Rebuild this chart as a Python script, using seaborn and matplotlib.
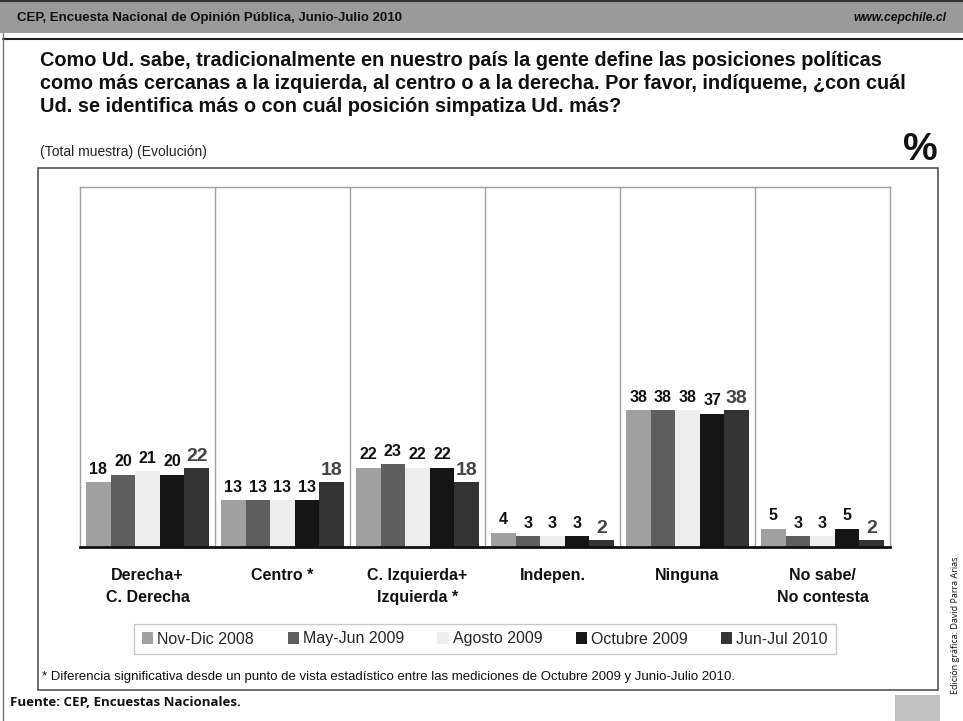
import matplotlib
matplotlib.use("Agg")
import matplotlib.pyplot as plt
import seaborn as sns
import pandas as pd
from matplotlib.patches import Rectangle
from matplotlib.lines import Line2D

categories = ["Derecha+\nC. Derecha", "Centro *", "C. Izquierda+\nIzquierda *",
              "Indepen.", "Ninguna", "No sabe/\nNo contesta"]
series = ["Nov-Dic 2008", "May-Jun 2009", "Agosto 2009", "Octubre 2009", "Jun-Jul 2010"]
nov_dic_2008 = [18, 13, 22, 4, 38, 5]
may_jun_2009 = [20, 13, 23, 3, 38, 3]
agosto_2009 = [21, 13, 22, 3, 38, 3]
octubre_2009 = [20, 13, 22, 3, 37, 5]
jun_jul_2010 = [22, 18, 18, 2, 38, 2]
colors = ["#A0A0A0", "#5E5E5E", "#EEEEEE", "#151515", "#333333"]

values = [nov_dic_2008, may_jun_2009, agosto_2009, octubre_2009, jun_jul_2010]
rows = []
for s, vals in zip(series, values):
    for c, v in zip(categories, vals):
        rows.append({"cat": c, "serie": s, "val": v})
df = pd.DataFrame(rows)

sns.set_style("white")
plt.rcParams['font.family'] = ['Liberation Sans', 'DejaVu Sans']

W, H = 963, 721
fig = plt.figure(figsize=(W / 100, H / 100), dpi=100)

def fx(x):
    return x / W

def fy(y):
    return 1 - y / H

# header band
fig.patches.append(Rectangle((0, fy(33)), 1, 33 / H, transform=fig.transFigure,
                             facecolor="#9A9A9A", edgecolor="none", zorder=0))
fig.lines.append(Line2D([0, 1], [fy(1), fy(1)], transform=fig.transFigure, color="#333333", lw=1.5))
fig.lines.append(Line2D([fx(3), 1], [fy(39), fy(39)], transform=fig.transFigure, color="#222222", lw=1.5))
fig.lines.append(Line2D([fx(3), fx(3)], [fy(33), fy(721)], transform=fig.transFigure, color="#777777", lw=1))
fig.text(fx(17), fy(18), "CEP, Encuesta Nacional de Opinión Pública, Junio-Julio 2010",
         fontsize=9.5, fontweight="bold", color="#111111", va="center", ha="left")
fig.text(fx(946), fy(18), "www.cepchile.cl", fontsize=8.7, fontweight="bold", style="italic",
         color="#111111", va="center", ha="right")

# title
fig.text(fx(40), fy(51), "Como Ud. sabe, tradicionalmente en nuestro país la gente define las posiciones políticas\n"
         "como más cercanas a la izquierda, al centro o a la derecha. Por favor, indíqueme, ¿con cuál\n"
         "Ud. se identifica más o con cuál posición simpatiza Ud. más?",
         fontsize=14.3, fontweight="bold", color="#111111", va="top", ha="left", linespacing=1.28)
fig.text(fx(40), fy(152), "(Total muestra) (Evolución)", fontsize=10, color="#222222", va="center", ha="left")
fig.text(fx(938), fy(150), "%", fontsize=28, fontweight="bold", color="#111111", va="center", ha="right")

# outer frame
fig.patches.append(Rectangle((fx(38), fy(690)), (938 - 38) / W, (690 - 168) / H, transform=fig.transFigure,
                             facecolor="none", edgecolor="#555555", lw=1.2, zorder=1))

# axes
ax = fig.add_axes([fx(80), fy(547), (890 - 80) / W, (547 - 187) / H])
sns.barplot(data=df, x="cat", y="val", hue="serie", palette=colors, width=0.91, gap=0,
            saturation=1, ax=ax, legend=False, edgecolor="none")
ax.set_ylim(0, 100)
ax.set_xlim(-0.5, len(categories) - 0.5)
ax.set_xlabel("")
ax.set_ylabel("")
ax.set_yticks([])
for i in range(1, len(categories)):
    ax.axvline(i - 0.5, color="#A0A0A0", lw=1, zorder=0)
for side in ["top", "left", "right"]:
    ax.spines[side].set_color("#A0A0A0")
    ax.spines[side].set_linewidth(1)
ax.spines["bottom"].set_color("#111111")
ax.spines["bottom"].set_linewidth(2)
ax.set_xticks(range(len(categories)))
ax.set_xticklabels(categories, fontsize=11.5, fontweight="bold", color="#111111", linespacing=1.6)
ax.tick_params(axis="x", which="major", length=0, pad=15)
ax.set_xticks([i - 0.5 for i in range(len(categories) + 1)], minor=True)
ax.tick_params(axis="x", which="minor", length=6, width=1.5, color="#111111", direction="out")

for k, cont in enumerate(ax.containers):
    if k == len(ax.containers) - 1:
        ax.bar_label(cont, padding=2, fontsize=14, fontweight="bold", color="#444444")
    else:
        ax.bar_label(cont, padding=4, fontsize=11.5, fontweight="bold", color="#111111")

# legend
handles = [Rectangle((0, 0), 1, 1, facecolor=c, edgecolor="none") for c in colors]
leg = fig.legend(handles, series, loc="center", bbox_to_anchor=(fx(485), fy(639)), ncol=5,
                 frameon=True, fontsize=11.5, handlelength=0.7, handleheight=0.7, handletextpad=0.25,
                 columnspacing=2.1, borderpad=0.5, fancybox=False)
leg.get_frame().set_edgecolor("#BBBBBB")
leg.get_frame().set_linewidth(1)

fig.text(fx(42), fy(677), "* Diferencia significativa desde un punto de vista estadístico entre las mediciones de Octubre 2009 y Junio-Julio 2010.",
         fontsize=9.5, color="#111111", va="center", ha="left")
fig.text(fx(10), fy(703), "Fuente: CEP, Encuestas Nacionales.", fontsize=9.5, fontweight="bold",
         color="#111111", va="center", ha="left", family=["Open Sans", "DejaVu Sans"])
fig.patches.append(Rectangle((fx(895), 0), (940 - 895) / W, (721 - 695) / H, transform=fig.transFigure,
                             facecolor="#C0C0C0", edgecolor="none"))
fig.text(fx(955), fy(625), "Edición gráfica: David Parra Arias", fontsize=6.5, rotation=90,
         color="#111111", va="center", ha="center", family=["Open Sans", "DejaVu Sans"])

fig.savefig("out.png", dpi=100)
